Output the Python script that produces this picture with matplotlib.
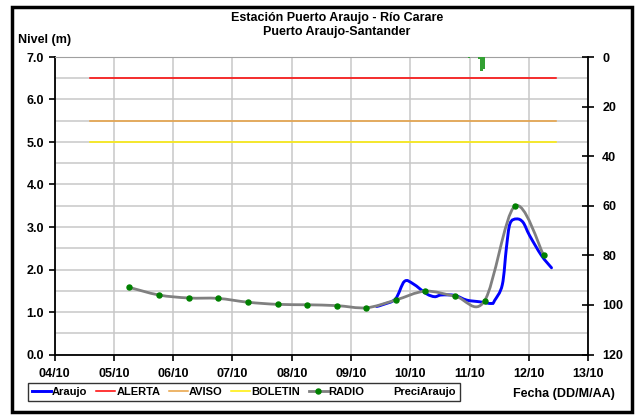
import matplotlib.pyplot as plt
import numpy as np
from matplotlib.path import Path
from matplotlib.patches import PathPatch, Rectangle
from matplotlib.lines import Line2D

plt.rcParams['font.family'] = ['Liberation Sans', 'DejaVu Sans']
plt.rcParams['font.weight'] = 'bold'

# days of October (x axis), levels in m
radio_day = [5.26, 5.76, 6.26, 6.76, 7.26, 7.76, 8.26, 8.76, 9.26, 9.75,
             10.25, 10.76, 11.25, 11.76, 12.25]
radio_lvl = [1.58, 1.40, 1.33, 1.32, 1.23, 1.18, 1.17, 1.15, 1.10, 1.28,
             1.49, 1.37, 1.26, 3.49, 2.33]

araujo_day = [9.43, 9.55, 9.75, 9.90, 10.05, 10.27, 10.41, 10.52, 10.75, 10.95,
              11.17, 11.37, 11.42, 11.55, 11.62, 11.68, 11.79, 11.90, 12.01,
              12.21, 12.38]
araujo_lvl = [1.13, 1.18, 1.31, 1.72, 1.66, 1.43, 1.36, 1.40, 1.39, 1.28,
              1.24, 1.20, 1.27, 1.64, 2.52, 3.08, 3.19, 3.11, 2.80,
              2.33, 2.04]

# precipitation (mm), right axis inverted
precip_day = [10.99, 11.16, 11.20, 11.24]
precip_mm = [0.5, 1.0, 5.8, 4.7]

thr_start, thr_end = 4.6, 12.45
alerta = 6.5
aviso = 5.5
boletin = 5.0

xticks = list(range(4, 14))
xlabels = ['%02d/10' % d for d in xticks]


def smooth_line(ax, x, y, **kw):
    pts = np.column_stack([x, y])
    n = len(pts)
    verts = [pts[0]]
    codes = [Path.MOVETO]
    for i in range(n - 1):
        p0 = pts[max(i - 1, 0)]
        p1 = pts[i]
        p2 = pts[i + 1]
        p3 = pts[min(i + 2, n - 1)]
        verts += [p1 + (p2 - p0) / 6, p2 - (p3 - p1) / 6, p2]
        codes += [Path.CURVE4] * 3
    ax.add_patch(PathPatch(Path(verts, codes), fill=False, capstyle='round', **kw))


fig = plt.figure(figsize=(6.43, 4.15), dpi=100)
ax = fig.add_axes([54.5 / 643, 1 - 354.5 / 415, (588.3 - 54.5) / 643, (354.5 - 57) / 415])

ax.set_xlim(4, 13)
ax.set_ylim(0, 7)
ax.set_xticks(xticks)
ax.set_xticklabels(xlabels)
ax.set_yticks(np.arange(0, 7.1, 1))
ax.set_yticklabels(['%.1f' % v for v in np.arange(0, 7.1, 1)])
ax.set_yticks(np.arange(0.5, 7, 1), minor=True)
ax.tick_params(axis='y', which='minor', length=0)
ax.grid(True, which='both', color='#c8c8c8', lw=1.1)
ax.set_axisbelow(True)
ax.tick_params(labelsize=9, direction='out', length=4, width=1.2)
ax.tick_params(axis='x', pad=6)
for s in ['left', 'bottom']:
    ax.spines[s].set_linewidth(1.3)
ax.spines['top'].set_color('#a0a0a0')
ax.spines['right'].set_visible(False)

ax.plot([thr_start, thr_end], [alerta, alerta], color='#ff0000', lw=1.1)
ax.plot([thr_start, thr_end], [aviso, aviso], color='#e8a040', lw=1.1)
ax.plot([thr_start, thr_end], [boletin, boletin], color='#ffee00', lw=1.1)

smooth_line(ax, araujo_day, araujo_lvl, edgecolor='#0000ff', lw=2.1, zorder=3)
smooth_line(ax, radio_day, radio_lvl, edgecolor='#808080', lw=2.0, zorder=4)
ax.plot(radio_day, radio_lvl, 'o', color='#008000', ms=3.6, zorder=5)

ax2 = ax.twinx()
ax2.set_ylim(120, 0)
ax2.set_yticks(range(0, 121, 20))
ax2.bar(precip_day, precip_mm, width=0.04, color='#33a033')
ax2.tick_params(labelsize=9, direction='inout', length=8, width=1.2, pad=6)
ax2.spines['right'].set_linewidth(1.3)
for s in ['left', 'top', 'bottom']:
    ax2.spines[s].set_visible(False)

fig.text(337 / 643, 1 - 17.5 / 415, 'Estación Puerto Araujo - Río Carare', ha='center', va='center', fontsize=9)
fig.text(337 / 643, 1 - 32 / 415, 'Puerto Araujo-Santander', ha='center', va='center', fontsize=9)
fig.text(18 / 643, 1 - 39.5 / 415, 'Nivel (m)', ha='left', va='center', fontsize=9)
fig.text(615 / 643, 1 - 393.5 / 415, 'Fecha (DD/M/AA)', ha='right', va='center', fontsize=9)

handles = [
    Line2D([], [], color='#0000ff', lw=2.1),
    Line2D([], [], color='#ff0000', lw=1.1),
    Line2D([], [], color='#e8a040', lw=1.1),
    Line2D([], [], color='#ffee00', lw=1.1),
    Line2D([], [], color='#808080', lw=2.0, marker='o', mfc='#008000', mec='#008000', ms=3.6),
    Line2D([], [], color='none'),
]
labels = ['Araujo', 'ALERTA', 'AVISO', 'BOLETIN', 'RADIO', 'PreciAraujo']
leg = fig.legend(handles, labels, ncol=6, loc='upper left',
                 bbox_to_anchor=(28.3 / 643, 1 - 383.3 / 415),
                 prop={'size': 8, 'weight': 'bold'}, frameon=True, fancybox=False,
                 handlelength=1.7, handletextpad=0.1, columnspacing=0.78,
                 borderpad=0.35, borderaxespad=0)
leg.get_frame().set_edgecolor('black')
leg.get_frame().set_linewidth(1.0)

fig.add_artist(Rectangle((12.3 / 643, 3 / 415), (632.3 - 12.3) / 643, (410 - 5) / 415,
                         transform=fig.transFigure, fill=False, edgecolor='black', lw=2.5))

fig.savefig('out.png', dpi=100)
